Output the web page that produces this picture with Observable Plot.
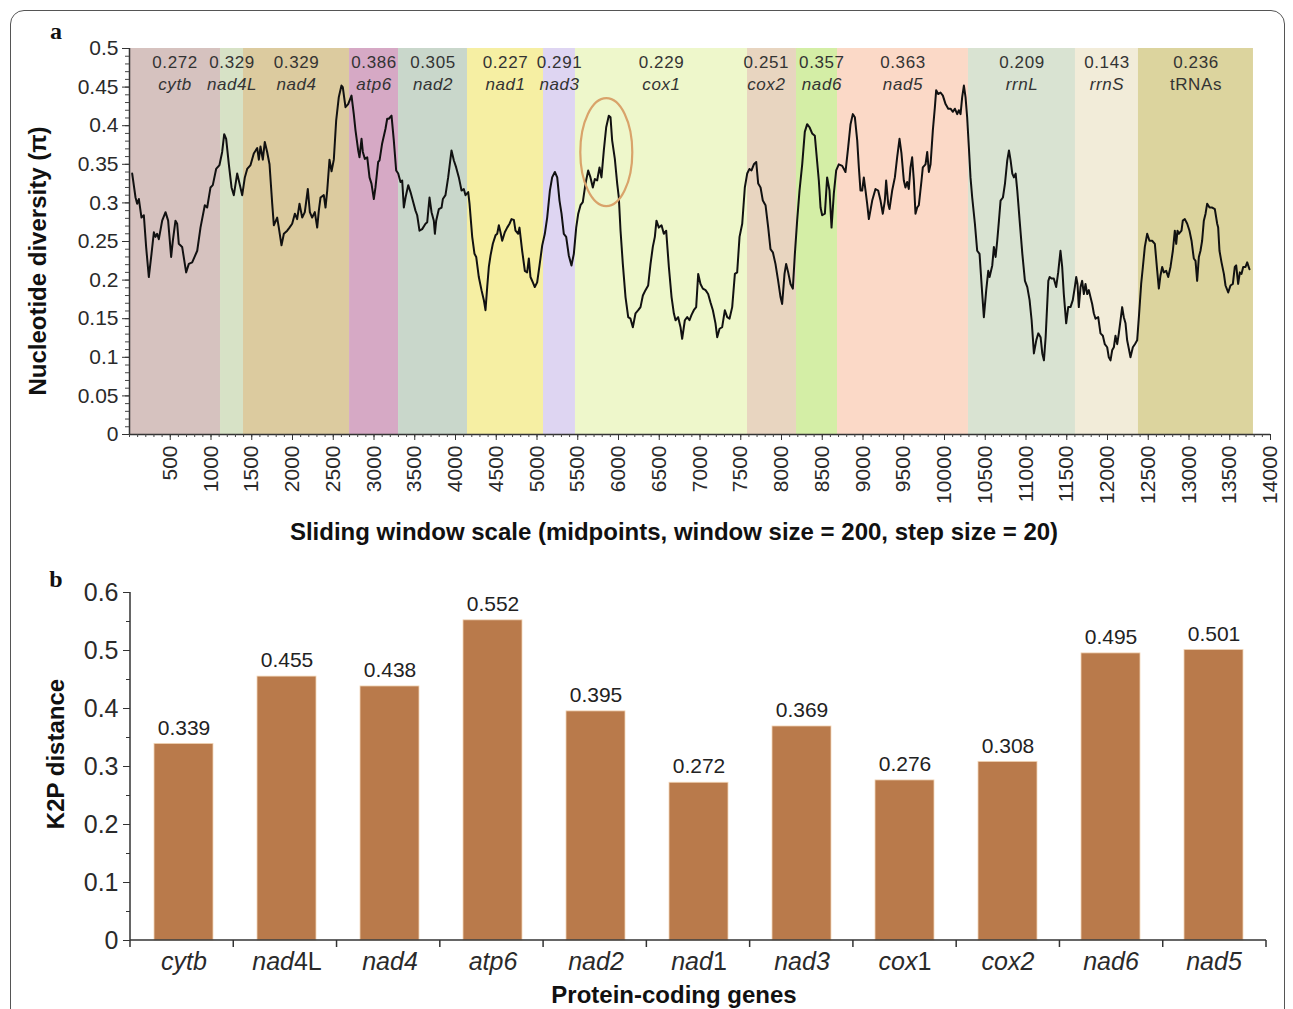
<!DOCTYPE html>
<html><head><meta charset="utf-8">
<script src="https://cdn.jsdelivr.net/npm/d3@7"></script>
<script src="https://cdn.jsdelivr.net/npm/@observablehq/plot@0.6"></script>
<style>
html,body{margin:0;padding:0;background:#fff;}
#wrap{position:relative;width:1293px;height:1009px;overflow:hidden;font-family:"Liberation Sans",Arial,sans-serif;color:#222;}
.frame{position:absolute;left:10px;top:10px;width:1275px;height:1200px;border:1.5px solid #555;border-radius:14px;box-sizing:border-box;}
.panel{position:absolute;left:0;}
.tag{position:absolute;font-family:"Liberation Serif","Times New Roman",serif;font-weight:bold;font-size:24px;transform:translate(-50%,-50%);color:#111;}
.title{position:absolute;font-weight:bold;font-size:24px;white-space:nowrap;color:#111;transform:translate(-50%,-50%);}
.ytitle{transform:translate(-50%,-50%) rotate(-90deg);}
</style></head><body>
<div id="wrap">
  <div class="frame"></div>
  <div id="top" class="panel" style="top:0px"></div>
  <div id="bottom" class="panel" style="top:555px"></div>
  <div class="tag" style="left:56px;top:31px">a</div>
  <div class="tag" style="left:56px;top:579px">b</div>
  <div class="title" style="left:674px;top:532px">Sliding window scale (midpoints, window size = 200, step size = 20)</div>
  <div class="title ytitle" style="left:38px;top:261px">Nucleotide diversity (π)</div>
  <div class="title ytitle" style="left:56px;top:754px">K2P distance</div>
  <div class="title" style="left:674px;top:995px">Protein-coding genes</div>
</div>
<script>
// ---------- Panel a data ----------
const regionGenes = ["cytb","nad4L","nad4","atp6","nad2","nad1","nad3","cox1","cox2","nad6","nad5","rrnL","rrnS","tRNAs"];
const regionStart = [0,1117,1399,2700,3301,4147,5080,5472,7583,8184,8687,10294,11607,12380];
const regionEnd   = [1117,1399,2700,3301,4147,5080,5472,7583,8184,8687,10294,11607,12380,13791];
const regionPi    = [0.272,0.329,0.329,0.386,0.305,0.227,0.291,0.229,0.251,0.357,0.363,0.209,0.143,0.236];
const regionPalette = ["#d6c2bf","#d7e2c6","#dccb9f","#d6a9c5","#c9d7cb","#f6efa3","#ded5f2","#eef7cb","#e8d5c0","#d4eea6","#fbd9c7","#d9e3d2","#f2ecd9","#dcd49e"];

const windowMid = [
33,74,94,115,147,176,204,237,270,299,319,339,360,401,442,474,511,532,564,585,605,646,695,728,769,831,871,924,953,994,
1022,1063,1104,1137,1162,1186,1219,1252,1280,1321,1350,1383,1415,1444,1485,1525,1567,1587,1607,1636,1660,1689,1718,1751,1771,1812,1832,1865,1894,1935,
1963,1996,2029,2057,2086,2119,2151,2188,2213,2241,2274,2303,2323,2344,2384,2405,2426,2454,2479,2507,2536,2568,2601,2617,2650,2683,2724,2752,
2773,2806,2822,2847,2863,2888,2917,2945,2969,2998,3018,3051,3068,3100,3141,3162,3182,3215,3243,3272,3297,3325,3346,3366,3387,3420,3448,3476,3509,3530,
3558,3591,3632,3653,3681,3706,3734,3747,3763,3796,3829,3845,3877,3910,3951,3980,4008,4041,4074,4102,4123,4156,4172,4205,4233,4254,4286,4319,4348,4368,
4389,4409,4430,4458,4491,4512,4532,4552,4573,4605,4634,4663,4687,4716,4736,4769,4785,4818,4851,4879,4900,4920,4949,4973,5002,5031,5064,5096,5125,5158,
5186,5219,5248,5276,5301,5329,5358,5390,5423,5452,5481,5506,5534,5562,5595,5628,
5656,5685,5710,5738,5767,5791,5820,5849,5881,5902,5922,5955,5984,6004,6025,6053,6086,6119,6147,6176,6209,6242,6270,6299,6331,6364,6393,6421,6446,6466,
6495,6528,6556,6585,6618,6651,6679,6700,6732,6761,6781,6814,6843,6871,6896,6924,6953,6978,7006,7035,7068,7100,7129,7158,7190,7211,7240,7272,7305,7334,
7362,7395,7428,7456,7485,7518,7550,7579,7607,7632,7661,7690,7714,7743,7771,7804,7837,7865,7894,7926,7959,7988,8008,8037,8057,8082,8111,8139,8164,8192,
8221,8254,8286,8315,8344,8376,8409,
8458,8479,8499,8532,8560,8589,8614,8642,8671,8703,8745,8785,8818,8847,8875,8900,8929,8949,8969,8990,9010,9031,9051,9072,9113,9153,9186,9215,9243,9268,
9284,9309,9325,9358,9391,9419,9448,9472,9501,9521,9542,9562,9583,9603,9624,9644,9665,9685,9718,9734,9767,9788,9808,9829,9857,9882,9898,9923,9951,9980,
10013,10046,10074,10103,10127,10156,10176,10197,10217,10238,10258,10278,10299,10319,10340,10373,10401,10430,10463,10483,10512,10537,10553,10586,10606,10627,10647,10668,10688,10717,
10742,10770,10791,10811,10832,10852,10873,10893,10922,10955,10987,11016,11044,11069,11097,11126,11151,11179,11200,11220,11241,11274,11290,
11313,11341,11370,11395,11423,11444,11464,11493,11518,11546,11574,11599,11616,11632,11648,11669,11689,11710,11730,11751,11771,11791,11812,11832,11853,11886,11914,11943,11967,11996,
12016,12037,12057,12078,12098,12119,12139,12160,12180,12200,12221,12241,12262,12282,12311,12336,12364,12385,12413,12434,12458,12487,12515,12548,12581,12610,12630,12650,12671,12691,
12720,12745,12773,12802,12826,12843,12859,12875,12908,12924,12949,12978,13006,13031,13059,13080,13100,13121,13141,13161,13182,13203,13223,13252,13285,13317,13346,13358,13374,13399,
13428,13448,13481,13509,13538,13562,13579,13603,13624,13644,13665,13693,13714,13742];

const piValue = [
0.338,0.307,0.299,0.305,0.281,0.284,0.243,0.204,0.234,0.262,0.256,0.260,0.253,0.277,0.288,0.277,0.230,0.251,0.277,0.273,0.247,0.243,0.210,0.221,0.223,0.238,0.268,0.297,0.294,0.320,
0.323,0.344,0.349,0.366,0.389,0.383,0.350,0.320,0.310,0.338,0.325,0.310,0.333,0.344,0.349,0.364,0.371,0.356,0.373,0.356,0.379,0.366,0.350,0.299,0.271,0.281,0.268,0.245,0.260,0.264,
0.268,0.273,0.286,0.279,0.299,0.281,0.288,0.318,0.288,0.281,0.288,0.268,0.290,0.307,0.310,0.294,0.316,0.356,0.341,0.356,0.407,0.437,0.452,0.450,0.424,0.428,0.439,0.415,
0.394,0.368,0.359,0.383,0.366,0.357,0.359,0.333,0.325,0.305,0.320,0.353,0.355,0.377,0.396,0.409,0.409,0.413,0.381,0.342,0.338,0.327,0.329,0.294,0.307,0.323,0.314,0.303,0.290,0.284,
0.264,0.266,0.273,0.275,0.307,0.288,0.277,0.260,0.277,0.292,0.294,0.305,0.310,0.333,0.368,0.355,0.346,0.333,0.316,0.318,0.310,0.314,0.299,0.256,0.234,0.230,0.204,0.187,0.174,0.161,
0.191,0.217,0.232,0.247,0.258,0.260,0.271,0.262,0.251,0.262,0.268,0.273,0.279,0.278,0.264,0.260,0.268,0.238,0.212,0.210,0.228,0.204,0.197,0.191,0.197,0.219,0.245,0.260,0.281,0.316,
0.333,0.340,0.333,0.303,0.286,0.260,0.256,0.232,0.219,0.234,0.268,0.286,0.297,0.301,0.325,0.342,
0.333,0.320,0.331,0.329,0.346,0.333,0.368,0.398,0.413,0.411,0.381,0.357,0.325,0.307,0.264,0.221,0.178,0.152,0.150,0.139,0.157,0.161,0.165,0.180,0.187,0.193,0.221,0.243,0.256,0.277,
0.268,0.271,0.260,0.264,0.217,0.178,0.157,0.148,0.152,0.139,0.124,0.148,0.152,0.148,0.155,0.161,0.165,0.208,0.195,0.189,0.187,0.182,0.171,0.161,0.144,0.126,0.137,0.139,0.161,0.152,
0.150,0.165,0.208,0.210,0.256,0.273,0.320,0.338,0.344,0.342,0.350,0.353,0.325,0.320,0.303,0.297,0.268,0.240,0.236,0.221,0.199,0.178,0.169,0.208,0.221,0.210,0.195,0.189,0.234,0.277,
0.316,0.350,0.392,0.402,0.398,0.390,0.387,
0.329,0.294,0.284,0.286,0.333,0.316,0.268,0.312,0.342,0.350,0.348,0.340,0.372,0.402,0.415,0.411,0.381,0.346,0.316,0.316,0.333,0.316,0.299,0.279,0.303,0.318,0.316,0.303,0.286,0.303,
0.329,0.299,0.292,0.316,0.333,0.359,0.383,0.364,0.329,0.320,0.327,0.318,0.346,0.359,0.329,0.286,0.294,0.297,0.329,0.346,0.350,0.366,0.340,0.350,0.394,0.424,0.446,0.441,0.443,0.439,
0.428,0.422,0.422,0.418,0.422,0.415,0.420,0.415,0.437,0.452,0.437,0.411,0.372,0.333,0.307,0.273,0.238,0.234,0.182,0.152,0.187,0.212,0.204,0.219,0.243,0.230,0.251,0.277,0.303,0.307,
0.325,0.355,0.368,0.355,0.338,0.333,0.338,0.316,0.277,0.234,0.199,0.191,0.174,0.148,0.105,0.122,0.131,0.126,0.105,0.096,0.126,0.199,0.204,
0.202,0.202,0.191,0.210,0.238,0.217,0.182,0.144,0.165,0.165,0.174,0.191,0.204,0.195,0.165,0.191,0.199,0.182,0.195,0.182,0.187,0.178,0.169,0.157,0.150,0.152,0.131,0.128,0.117,0.113,
0.100,0.096,0.109,0.113,0.128,0.117,0.131,0.148,0.165,0.152,0.144,0.122,0.111,0.100,0.113,0.117,0.122,0.152,0.195,0.217,0.243,0.260,0.251,0.251,0.247,0.212,0.189,0.206,0.217,0.210,
0.212,0.204,0.217,0.238,0.264,0.247,0.264,0.260,0.264,0.277,0.279,0.273,0.264,0.251,0.228,0.225,0.199,0.230,0.238,0.251,0.277,0.286,0.299,0.294,0.294,0.292,0.273,0.268,0.238,0.223,
0.208,0.193,0.184,0.193,0.195,0.217,0.219,0.195,0.210,0.208,0.217,0.217,0.223,0.214];

const piTicks = [0,0.05,0.1,0.15,0.2,0.25,0.3,0.35,0.4,0.45,0.5];
const bpTicks = [500,1000,1500,2000,2500,3000,3500,4000,4500,5000,5500,6000,6500,7000,7500,8000,8500,9000,9500,10000,10500,11000,11500,12000,12500,13000,13500,14000];

// ---------- Panel b data ----------
const genes = ["cytb","nad4L","nad4","atp6","nad2","nad1","nad3","cox1","cox2","nad6","nad5"];
const k2p = [0.339,0.455,0.438,0.552,0.395,0.272,0.369,0.276,0.308,0.495,0.501];
const k2pTicks = [0,0.1,0.2,0.3,0.4,0.5,0.6];

// ---------- build ----------
const regions = regionGenes.map((g,i)=>({gene:g,start:regionStart[i],end:regionEnd[i],pi:regionPi[i],color:regionPalette[i]}));
const series = windowMid.map((x,i)=>({x, y:piValue[i]}));
const bars = genes.map((g,i)=>({gene:g,k2p:k2p[i]}));
const SVGNS = "http://www.w3.org/2000/svg";
const fmt = d => String(+d.toFixed(2));
// label anchor: region centre, with a small nudge for the two crowded narrow regions
const labelNudge = {cox2: -70, nad6: 60};
const mid = d => (d.start + d.end) / 2 + (labelNudge[d.gene] || 0);
const FONT = "'Liberation Sans', Arial, sans-serif";

// highlight ellipse around the cox1 peak, located from the data
const ellipseMark = (index, scales) => {
  let bi = 0, best = -1;
  windowMid.forEach((x,i)=>{ if (x > regionStart[7] && x < regionStart[7] + 700 && piValue[i] > best) { best = piValue[i]; bi = i; } });
  const el = document.createElementNS(SVGNS, "ellipse");
  el.setAttribute("cx", scales.x(windowMid[bi]) - 2);
  el.setAttribute("cy", scales.y(piValue[bi]) + 37);
  el.setAttribute("rx", 26);
  el.setAttribute("ry", 54);
  el.setAttribute("fill", "none");
  el.setAttribute("stroke", "#d9a36a");
  el.setAttribute("stroke-width", 2.2);
  return el;
};

const topChart = Plot.plot({
  width: 1293, height: 510,
  marginTop: 48, marginRight: 23, marginBottom: 76, marginLeft: 129,
  style: {background: "transparent", fontFamily: FONT, fontSize: "21px", color: "#2a2a2a", overflow: "visible"},
  x: {domain: [0, 14000]},
  y: {domain: [0, 0.5]},
  color: {type: "identity"},
  marks: [
    Plot.rect(regions, {x1: "start", x2: "end", y1: 0, y2: 0.5, fill: "color"}),
    Plot.text(regions, {x: mid, y: 0.5, text: d => d.pi.toFixed(3), dy: 14, fontSize: 17, fontFamily: FONT, fill: "#333"}),
    Plot.text(regions.filter(d => d.gene !== "tRNAs"), {x: mid, y: 0.5, text: "gene", dy: 36, fontSize: 17, fontFamily: FONT, fontStyle: "italic", fill: "#333"}),
    Plot.text(regions.filter(d => d.gene === "tRNAs"), {x: mid, y: 0.5, text: "gene", dy: 36, fontSize: 17, fontFamily: FONT, fill: "#333"}),
    Plot.line(series, {x: "x", y: "y", stroke: "#111", strokeWidth: 2}),
    ellipseMark,
    Plot.ruleX([0], {y1: 0, y2: 0.5, stroke: "#333", strokeWidth: 1.5}),
    Plot.ruleY([0], {stroke: "#333", strokeWidth: 1.5}),
    Plot.axisY({ticks: d3.range(0, 0.5001, 0.01), tickSize: 4, tickFormat: () => "", label: null, stroke: "#444"}),
    Plot.axisY({ticks: piTicks, tickSize: 7, tickPadding: 4, tickFormat: fmt, label: null, stroke: "#333"}),
    Plot.axisX({ticks: d3.range(0, 14001, 100), tickSize: 3, tickFormat: () => "", label: null, stroke: "#444"}),
    Plot.axisX({ticks: bpTicks, tickSize: 6, tickPadding: 5, tickRotate: -90, tickFormat: d => String(d), label: null, stroke: "#333"})
  ]
});
document.getElementById("top").appendChild(topChart);
topChart.querySelectorAll('g[font-size="17"]').forEach(g => g.setAttribute("letter-spacing", "0.6"));

const bandTicks = (index, scales, values, dims) => {
  const g = document.createElementNS(SVGNS, "g");
  g.setAttribute("stroke", "#333");
  g.setAttribute("stroke-width", 1.5);
  const x0 = dims.marginLeft, x1 = dims.width - dims.marginRight;
  const y0 = dims.marginTop, y1 = dims.height - dims.marginBottom;
  const add = (a, b, c, d) => { const l = document.createElementNS(SVGNS, "line"); l.setAttribute("x1", a); l.setAttribute("y1", b); l.setAttribute("x2", c); l.setAttribute("y2", d); g.appendChild(l); };
  add(x0, y0, x0, y1);
  add(x0, y1, x1, y1);
  const n = genes.length, step = (x1 - x0) / n;
  for (let i = 0; i <= n; i++) add(x0 + i * step, y1, x0 + i * step, y1 + 7);
  return g;
};

const bottomChart = Plot.plot({
  width: 1293, height: 454,
  marginTop: 37, marginRight: 27, marginBottom: 69, marginLeft: 130,
  style: {background: "transparent", fontFamily: FONT, fontSize: "25px", color: "#2a2a2a", overflow: "visible"},
  x: {domain: genes, paddingInner: 0.43, paddingOuter: 0.215},
  y: {domain: [0, 0.6]},
  marks: [
    Plot.barY(bars, {x: "gene", y: "k2p", fill: "#b97a4b", stroke: "#f2d6b8", strokeWidth: 0.8}),
    Plot.text(bars, {x: "gene", y: "k2p", text: d => d.k2p.toFixed(3), dy: -16, fontSize: 21, fontFamily: FONT, fill: "#222"}),
    bandTicks,
    Plot.axisY({ticks: d3.range(0, 0.6001, 0.05), tickSize: 4, tickFormat: () => "", label: null, stroke: "#333"}),
    Plot.axisY({ticks: k2pTicks, tickSize: 7, tickPadding: 5, tickFormat: fmt, label: null, stroke: "#333"}),
    Plot.axisX({tickSize: 0, tickPadding: 12, label: null})
  ]
});
document.getElementById("bottom").appendChild(bottomChart);

// gene names: letters italic, locus suffixes upright where the figure shows them so
const upright = {nad4L: "4L", nad1: "1", cox1: "1"};
bottomChart.querySelectorAll('g[aria-label="x-axis tick label"] text').forEach(t => {
  const name = t.textContent;
  const suf = upright[name] || "";
  const head = name.slice(0, name.length - suf.length);
  t.textContent = "";
  const a = document.createElementNS(SVGNS, "tspan"); a.setAttribute("font-style", "italic"); a.textContent = head; t.appendChild(a);
  if (suf) { const b = document.createElementNS(SVGNS, "tspan"); b.textContent = suf; t.appendChild(b); }
});
</script>
</body></html>
